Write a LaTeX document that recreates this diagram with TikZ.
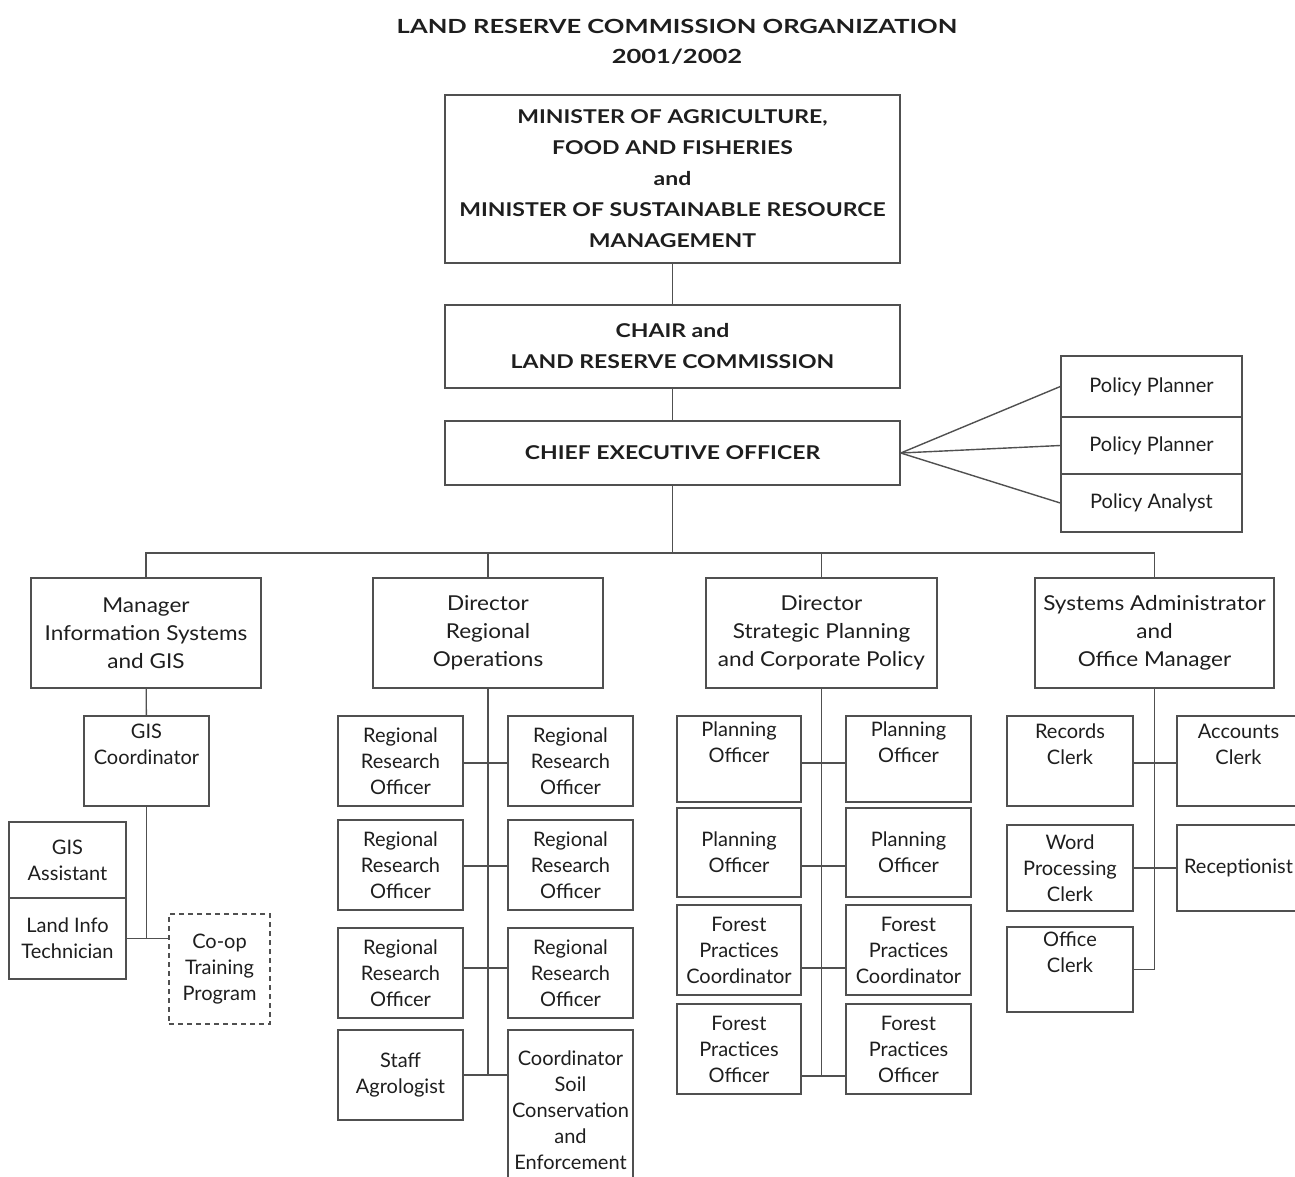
\documentclass[tikz,border=0pt]{standalone}
\usepackage{fontspec}
\setmainfont{Lato}
\newfontfamily\ttlfont[FakeStretch=1.31]{Lato}
\newfontfamily\hdfont[FakeStretch=1.21]{Lato}
\newfontfamily\lvfont[FakeStretch=1.1]{Lato}
\usetikzlibrary{calc}
\definecolor{ln}{HTML}{505050}
\definecolor{tx}{HTML}{1E1E1E}
\begin{document}
\begin{tikzpicture}[x=1pt,y=-1pt,
  box/.style={draw=ln, line width=1.4pt, inner sep=0pt, align=center, text=tx,
    font=\fontsize{20}{26}\selectfont},
  wh/.style 2 args={minimum width=#1pt, minimum height=#2pt},
  topbox/.style={box, font=\hdfont\bfseries\fontsize{19}{31}\selectfont},
  lvbox/.style={box, font=\lvfont\fontsize{20.5}{28}\selectfont},
  dashbox/.style={box, dashed, dash pattern=on 5pt off 4pt},
  conn/.style={draw=ln, line width=1.4pt}]
\useasboundingbox (0,0) rectangle (1295,1176);
\clip (0,0) rectangle (1295,1176);

% title
\node[font=\ttlfont\bfseries\fontsize{19.5}{30}\selectfont, align=center, text=tx] (title) at (677,42)
  {LAND RESERVE COMMISSION ORGANIZATION\\2001/2002};

% top hierarchy
\node[topbox, wh={455}{168}] (min) at (672.5,179)
  {MINISTER OF AGRICULTURE,\\FOOD AND FISHERIES\\and\\MINISTER OF SUSTAINABLE RESOURCE\\MANAGEMENT};
\node[topbox, wh={455}{83}] (chair) at (672.5,346.5) {CHAIR and\\LAND RESERVE COMMISSION};
\node[topbox, wh={455}{64}] (ceo) at (672.5,453) {CHIEF EXECUTIVE OFFICER};

% policy staff
\node[box, wh={181}{61}] (pp1) at (1151.5,386.5) {Policy Planner};
\node[box, wh={181}{57}] (pp2) at (1151.5,445.5) {Policy Planner};
\node[box, wh={181}{58}] (pa) at (1151.5,503) {Policy Analyst};

% level 2
\node[lvbox, wh={230}{110}] (mis) at (146,633) {Manager\\Information Systems\\and GIS};
\node[lvbox, wh={230}{110}] (dro) at (488,633) {Director\\Regional\\Operations};
\node[lvbox, wh={231}{110}] (dsp) at (821.5,633) {Director\\Strategic Planning\\and Corporate Policy};
\node[lvbox, wh={239}{110}] (sam) at (1154.5,633) {Systems Administrator\\and\\Office Manager};

% column 1
\node[box, wh={125}{90}] (gisc) at (146.5,761) {GIS\\Coordinator\\\strut};
\node[box, wh={117}{76}] (gisa) at (67.5,860) {GIS\\Assistant};
\node[box, wh={117}{81}] (lit) at (67.5,938.5) {Land Info\\Technician};
\node[dashbox, wh={101}{110}] (coop) at (219.5,969) {Co-op\\Training\\Program};

% column 2
\node[box, wh={125}{90}] (r1l) at (400.5,761) {Regional\\Research\\Officer};
\node[box, wh={125}{90}] (r1r) at (570.5,761) {Regional\\Research\\Officer};
\node[box, wh={125}{90}] (r2l) at (400.5,865) {Regional\\Research\\Officer};
\node[box, wh={125}{90}] (r2r) at (570.5,865) {Regional\\Research\\Officer};
\node[box, wh={125}{90}] (r3l) at (400.5,973) {Regional\\Research\\Officer};
\node[box, wh={125}{90}] (r3r) at (570.5,973) {Regional\\Research\\Officer};
\node[box, wh={125}{90}] (sagr) at (400.5,1075) {Staff\\Agrologist};
\node[box, wh={125}{160}] (csce) at (570.5,1110) {Coordinator\\Soil\\Conservation\\and\\Enforcement};

% column 3
\node[box, wh={124}{86}] (p1l) at (739,759) {Planning\\Officer\\\strut};
\node[box, wh={125}{86}] (p1r) at (908.5,759) {Planning\\Officer\\\strut};
\node[box, wh={124}{89}] (p2l) at (739,852.5) {Planning\\Officer};
\node[box, wh={125}{89}] (p2r) at (908.5,852.5) {Planning\\Officer};
\node[box, wh={124}{90}] (fcl) at (739,950) {Forest\\Practices\\Coordinator};
\node[box, wh={125}{90}] (fcr) at (908.5,950) {Forest\\Practices\\Coordinator};
\node[box, wh={124}{90}] (fol) at (739,1049) {Forest\\Practices\\Officer};
\node[box, wh={125}{90}] (for) at (908.5,1049) {Forest\\Practices\\Officer};

% column 4
\node[box, wh={126}{90}] (rc) at (1070,761) {Records\\Clerk\\\strut};
\node[box, wh={123}{90}] (ac) at (1238.5,761) {Accounts\\Clerk\\\strut};
\node[box, wh={126}{86}] (wpc) at (1070,868) {Word\\Processing\\Clerk};
\node[box, wh={123}{86}] (rec) at (1238.5,868) {Receptionist};
\node[box, wh={126}{85}] (oc) at (1070,969.5) {Office\\Clerk\\\strut};

% spine coordinates
\coordinate (bus) at (672.5,553);
\coordinate (c2a) at (488,763);
\coordinate (c2b) at (488,866);
\coordinate (c2c) at (488,968);
\coordinate (c3a) at (821.5,763);
\coordinate (c3b) at (821.5,866);
\coordinate (c3c) at (821.5,968);
\coordinate (c3d) at (821.5,1076);
\coordinate (c4a) at (1154.5,763);

% connectors: top
\draw[conn] (min) -- (chair);
\draw[conn] (chair) -- (ceo);
\draw[conn] (ceo.south) -- (bus);
\draw[conn] (mis.north) |- (bus) -| (sam.north);
\draw[conn] (dro.north) -- (dro.north |- bus);
\draw[conn] (dsp.north) -- (dsp.north |- bus);
\draw[conn] (ceo.east) -- (pp1.west);
\draw[conn] (ceo.east) -- (pp2.west);
\draw[conn] (ceo.east) -- (pa.west);

% column 1
\draw[conn] (mis) -- (gisc);
\draw[conn] (gisc.south) -- (gisc.south |- lit.east);
\draw[conn] (lit.east) -- (lit.east -| coop.west);

% column 2
\draw[conn] (dro.south) -- (dro.south |- sagr.east);
\draw[conn] (r1l.east |- c2a) -- (r1r.west |- c2a);
\draw[conn] (r2l.east |- c2b) -- (r2r.west |- c2b);
\draw[conn] (r3l.east |- c2c) -- (r3r.west |- c2c);
\draw[conn] (sagr.east) -- (sagr.east -| csce.west);

% column 3
\draw[conn] (dsp.south) -- (c3d);
\draw[conn] (p1l.east |- c3a) -- (p1r.west |- c3a);
\draw[conn] (p2l.east |- c3b) -- (p2r.west |- c3b);
\draw[conn] (fcl.east |- c3c) -- (fcr.west |- c3c);
\draw[conn] (fol.east |- c3d) -- (for.west |- c3d);

% column 4
\draw[conn] (sam.south) |- (oc.east);
\draw[conn] (rc.east |- c4a) -- (ac.west |- c4a);
\draw[conn] (wpc) -- (rec);
\end{tikzpicture}
\end{document}
